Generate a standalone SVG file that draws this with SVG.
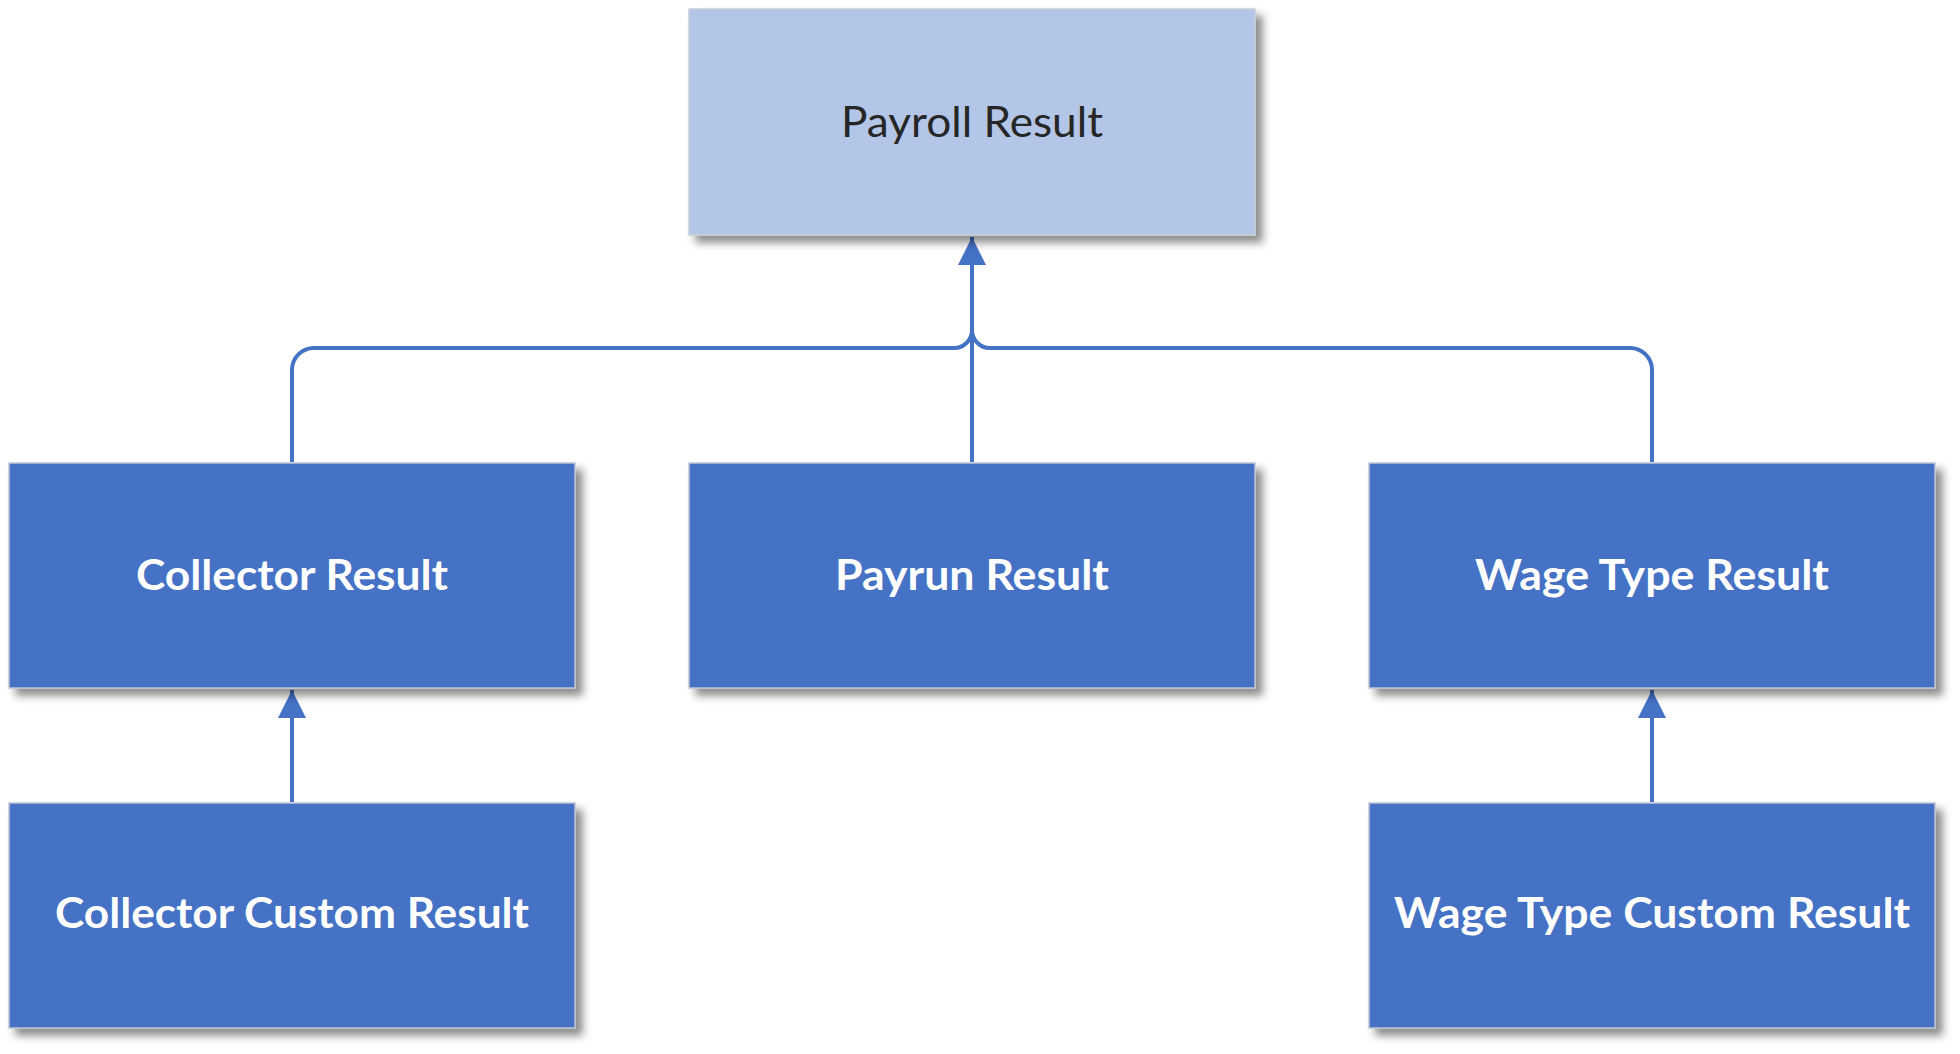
<svg xmlns="http://www.w3.org/2000/svg" width="1960" height="1054" viewBox="0 0 1960 1054">
<defs>
<style>
.box{fill:#4472C4;stroke:#BCC4D2;stroke-width:1.5;filter:url(#sh)}
.top{fill:#B4C6E7;stroke:#C8CDD6;stroke-width:1.5;filter:url(#sh)}
.lbl{font-family:Lato,"Open Sans",sans-serif;font-size:42px;font-weight:bold;fill:#FFFFFF;text-anchor:middle}
.lbl2{font-family:Lato,"Open Sans",sans-serif;font-size:42px;fill:#262626;text-anchor:middle}
.c{fill:none;stroke:#4472C4;stroke-width:4}
</style>
<filter id="sh" x="-10%" y="-10%" width="125%" height="130%">
<feDropShadow dx="7" dy="7" stdDeviation="4" flood-color="#000" flood-opacity="0.45"/>
</filter>
<marker id="ar" markerUnits="userSpaceOnUse" markerWidth="30" markerHeight="30" viewBox="0 0 30 30" refX="28" refY="15" orient="auto">
<path d="M0,1 L28,15 L0,29 Z" fill="#4472C4"/>
</marker>
</defs>
<g id="connectors">
<path class="c" d="M292,462 V370 A22,22 0 0 1 314,348 H954 A18,18 0 0 0 972,330"/>
<path class="c" d="M1652,462 V370 A22,22 0 0 0 1630,348 H990 A18,18 0 0 1 972,330"/>
<path class="c" d="M972,462 V237" marker-end="url(#ar)"/>
<path class="c" d="M292,802 V690" marker-end="url(#ar)"/>
<path class="c" d="M1652,802 V690" marker-end="url(#ar)"/>
</g>
<g id="payroll-result">
<rect class="top" x="689" y="9" width="566" height="226"/>
<text class="lbl2" x="972" y="137" textLength="262" lengthAdjust="spacingAndGlyphs">Payroll Result</text>
</g>
<g id="collector-result">
<rect class="box" x="9" y="463" width="566" height="225"/>
<text class="lbl" x="292" y="590" textLength="312" lengthAdjust="spacingAndGlyphs">Collector Result</text>
</g>
<g id="payrun-result">
<rect class="box" x="689" y="463" width="566" height="225"/>
<text class="lbl" x="972" y="590" textLength="274" lengthAdjust="spacingAndGlyphs">Payrun Result</text>
</g>
<g id="wage-type-result">
<rect class="box" x="1369" y="463" width="566" height="225"/>
<text class="lbl" x="1652" y="590" textLength="354" lengthAdjust="spacingAndGlyphs">Wage Type Result</text>
</g>
<g id="collector-custom-result">
<rect class="box" x="9" y="803" width="566" height="225"/>
<text class="lbl" x="292" y="928" textLength="474" lengthAdjust="spacingAndGlyphs">Collector Custom Result</text>
</g>
<g id="wage-type-custom-result">
<rect class="box" x="1369" y="803" width="566" height="225"/>
<text class="lbl" x="1652" y="928" textLength="516" lengthAdjust="spacingAndGlyphs">Wage Type Custom Result</text>
</g>
</svg>
